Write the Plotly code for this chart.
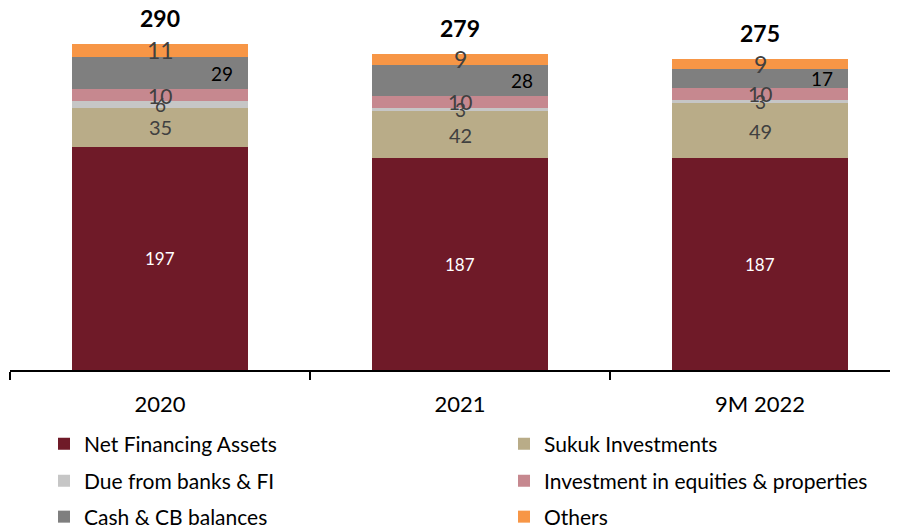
import plotly.graph_objects as go

categories = ["2020", "2021", "9M 2022"]
net_financing = [197, 187, 187]
sukuk = [35, 42, 49]
due_banks = [6, 3, 3]
invest_eq = [10, 10, 10]
cash_cb = [29, 28, 17]
others = [11, 9, 9]
totals = [290, 279, 275]

series = [
    ("Net Financing Assets", net_financing, "#6F1A28"),
    ("Sukuk Investments", sukuk, "#B9AC88"),
    ("Due from banks & FI", due_banks, "#C6C6C6"),
    ("Investment in equities & properties", invest_eq, "#C6888F"),
    ("Cash & CB balances", cash_cb, "#7F7F7F"),
    ("Others", others, "#F79646"),
]
# label style per series: (color, size, xshift)
label_style = [
    ("#FFFFFF", 17, 0),
    ("#404040", 20, 0),
    ("#404040", 19, 0),
    ("#404040", 21, 0),
    ("#000000", 19, 62),
    ("#404040", 23, 0),
]
legend_ids = ["legend", "legend2", "legend3", "legend4", "legend5", "legend6"]

FONT = "Lato, Carlito, Calibri, sans-serif"
OFF = 8  # page body margin
W, H = 898 - OFF, 530 - OFF
# legend placement (text left x, text center y) in window pixels
legend_pos = [(85, 444), (545, 444), (85, 481), (545, 481), (85, 517), (545, 517)]

fig = go.Figure()
for (name, vals, color), lid in zip(series, legend_ids):
    fig.add_trace(go.Bar(
        x=categories, y=vals, name=name,
        marker=dict(color=color, line=dict(width=0)),
        width=0.587, legend=lid, hoverinfo="skip",
    ))

annotations = []
base = [0, 0, 0]
for (name, vals, color), (tc, ts, xs) in zip(series, label_style):
    for i, cat in enumerate(categories):
        mid = base[i] + vals[i] / 2
        annotations.append(dict(
            x=i, y=mid, text=str(vals[i]), showarrow=False,
            xshift=xs, font=dict(family=FONT, size=ts, color=tc),
            xanchor="center", yanchor="middle",
        ))
        base[i] += vals[i]

for i, cat in enumerate(categories):
    annotations.append(dict(
        x=i, y=base[i], text="<b>%d</b>" % totals[i], showarrow=False,
        yshift=10, yanchor="bottom",
        font=dict(family=FONT, size=23, color="#000000"),
    ))

legends = {}
for lid, (px, py) in zip(legend_ids, legend_pos):
    legends[lid] = dict(
        orientation="v", xref="container", yref="container",
        x=(px - OFF - 41) / W, y=1 - (py - OFF) / H,
        xanchor="left", yanchor="middle",
        font=dict(family=FONT, size=21, color="#000000"),
        bgcolor="rgba(0,0,0,0)", borderwidth=0,
    )

fig.update_layout(
    width=W, height=H,
    margin=dict(l=2, r=0, t=0, b=160, autoexpand=False),
    paper_bgcolor="white", plot_bgcolor="white",
    barmode="stack",
    showlegend=True,
    xaxis=dict(
        type="category", range=[-0.5, 2.46],
        showline=True, linecolor="#000000", linewidth=1.5,
        ticks="outside", tickson="boundaries", ticklen=8, tickwidth=1.5,
        tickcolor="#000000", ticklabelstandoff=14,
        tickfont=dict(family=FONT, size=22, color="#000000"),
        showgrid=False, zeroline=False,
    ),
    yaxis=dict(range=[0, 320], visible=False, showgrid=False, zeroline=False),
    annotations=annotations,
    font=dict(family=FONT),
    **legends,
)

fig.write_html("out.html")
